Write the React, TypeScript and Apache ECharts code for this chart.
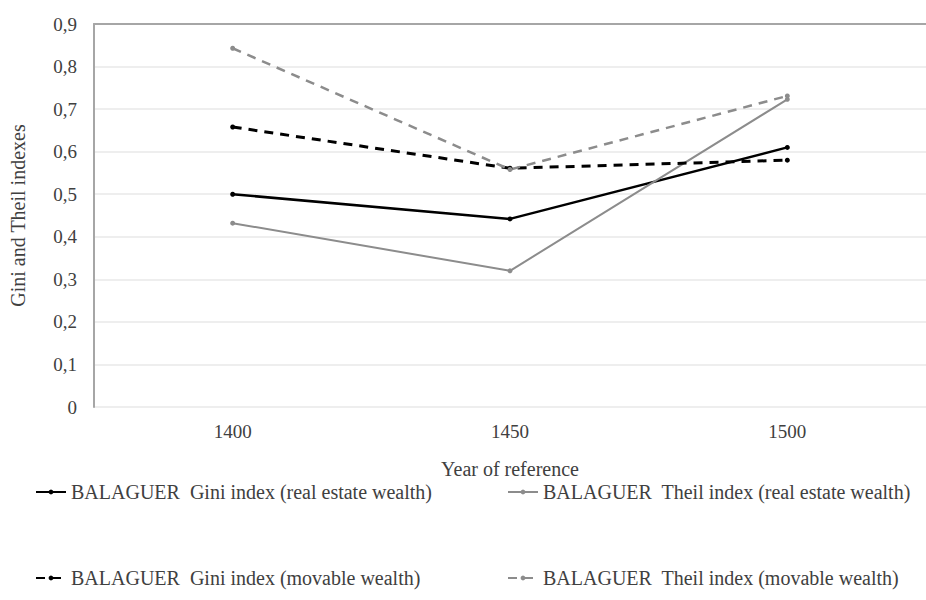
import React, { useEffect, useRef } from "react";
import * as echarts from "echarts";

const years = ["1400", "1450", "1500"];
const giniReal = [0.5, 0.442, 0.61];
const theilReal = [0.432, 0.32, 0.723];
const giniMovable = [0.658, 0.561, 0.58];
const theilMovable = [0.843, 0.558, 0.731];
const yTicks = { min: 0, max: 0.9, interval: 0.1 };

const NAME_GR = "BALAGUER  Gini index (real estate wealth)";
const NAME_TR = "BALAGUER  Theil index (real estate wealth)";
const NAME_GM = "BALAGUER  Gini index (movable wealth)";
const NAME_TM = "BALAGUER  Theil index (movable wealth)";

const FONT = "Liberation Serif";
const TEXT = "#404040";

export default function App() {
  const ref = useRef<HTMLDivElement>(null);
  useEffect(() => {
    if (!ref.current) return;
    const chart = echarts.init(ref.current, undefined, { renderer: "svg" });
    const mk = (name: string, data: number[], color: string, width: number, type: any) => ({
      name,
      type: "line",
      data,
      symbol: "circle",
      symbolSize: 5,
      itemStyle: { color },
      lineStyle: { color, width, type },
      emphasis: { disabled: true },
    });
    const legendText = { fontFamily: FONT, fontSize: 20, color: TEXT };
    chart.setOption({
      animation: false,
      textStyle: { fontFamily: FONT, color: TEXT },
      grid: { left: 93, right: 0, top: 24, bottom: 193, containLabel: false },
      legend: [
        {
          data: [NAME_GR, NAME_GM],
          orient: "vertical",
          left: 30,
          top: 477,
          itemWidth: 30,
          itemHeight: 6,
          itemGap: 66,
          textStyle: legendText,
        },
        {
          data: [NAME_TR, NAME_TM],
          orient: "vertical",
          left: 502,
          top: 477,
          itemWidth: 30,
          itemHeight: 6,
          itemGap: 66,
          textStyle: legendText,
        },
      ],
      xAxis: [
        {
          type: "category",
          data: years,
          boundaryGap: true,
          position: "bottom",
          name: "Year of reference",
          nameLocation: "middle",
          nameGap: 52,
          nameTextStyle: { fontFamily: FONT, fontSize: 20, color: TEXT },
          axisLine: { show: false },
          axisTick: { show: false },
          axisLabel: { fontFamily: FONT, fontSize: 19, color: TEXT, margin: 15 },
        },
        {
          type: "category",
          data: years,
          position: "top",
          axisLine: { show: true, lineStyle: { color: "#a6a6a6", width: 2 } },
          axisTick: { show: false },
          axisLabel: { show: false },
        },
      ],
      yAxis: {
        type: "value",
        min: yTicks.min,
        max: yTicks.max,
        interval: yTicks.interval,
        name: "Gini and Theil indexes",
        nameLocation: "middle",
        nameGap: 66,
        nameTextStyle: { fontFamily: FONT, fontSize: 20, color: TEXT },
        axisLine: { show: true, lineStyle: { color: "#a6a6a6", width: 2 } },
        axisTick: { show: false },
        splitLine: { show: true, lineStyle: { color: "#e8e8e8", width: 1.5 } },
        axisLabel: {
          fontFamily: FONT,
          fontSize: 19,
          color: TEXT,
          margin: 17,
          formatter: (v: number) => (v === 0 ? "0" : v.toFixed(1).replace(".", ",")),
        },
      },
      series: [
        mk(NAME_GR, giniReal, "#000000", 2.5, "solid"),
        mk(NAME_TR, theilReal, "#8c8c8c", 2, "solid"),
        mk(NAME_GM, giniMovable, "#000000", 3, [9, 7]),
        mk(NAME_TM, theilMovable, "#8c8c8c", 2.5, [9, 7]),
      ],
    });
    return () => chart.dispose();
  }, []);
  return (
    <div
      ref={ref}
      style={{ position: "absolute", left: 0, top: 0, width: 926, height: 600, background: "#fff" }}
    />
  );
}
